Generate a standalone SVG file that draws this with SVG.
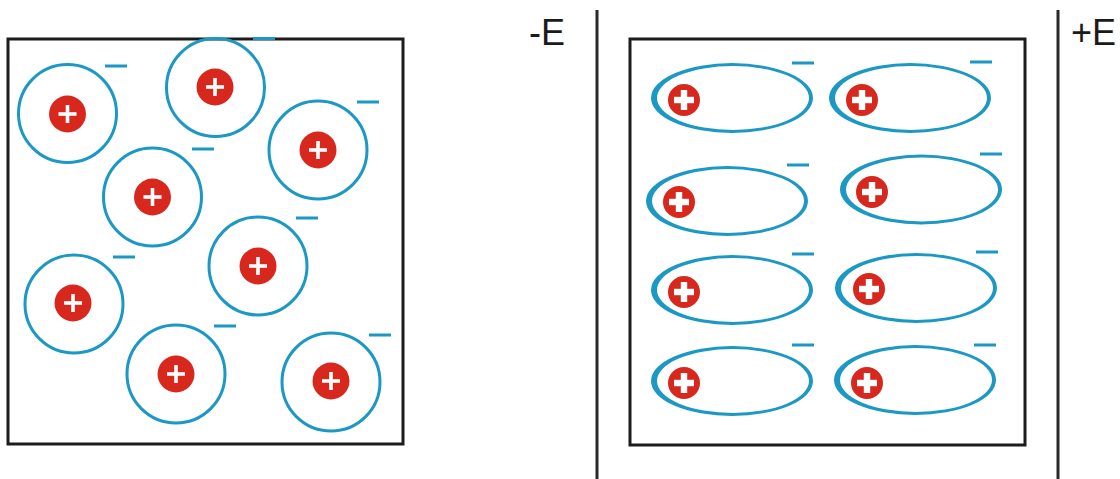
<svg xmlns="http://www.w3.org/2000/svg" xmlns:xlink="http://www.w3.org/1999/xlink" width="1120" height="479" viewBox="0 0 1120 479">
  <style>
    .frame { fill: none; stroke: #1c1c1c; stroke-width: 3; }
    .plate { stroke: #2a2a2a; stroke-width: 3; }
    .shell { fill: none; stroke: #1b98c3; stroke-width: 3; }
    .ring { fill: #1b98c3; fill-rule: evenodd; }
    .minus { fill: #1b98c3; }
    .nucleus { fill: #d8281d; }
    .nucleus-edge { fill: #d8281d; stroke: #ffffff; stroke-width: 2; }
    .plus { fill: #ffffff; }
    .label { font-family: "Liberation Sans", Arial, sans-serif; font-size: 36px; fill: #1a1a1a; }
  </style>
  <defs>
    <!-- positive core, unpolarised atom -->
    <g id="core">
      <circle class="nucleus" r="18.5"/>
      <rect class="plus" x="-9" y="-1.8" width="18" height="3.6"/>
      <rect class="plus" x="-1.8" y="-9" width="3.6" height="18"/>
    </g>
    <!-- positive core, polarised atom -->
    <g id="core-b">
      <circle class="nucleus-edge" r="17"/>
      <rect class="plus" x="-10" y="-3.2" width="20" height="6.4"/>
      <rect class="plus" x="-3.2" y="-10" width="6.4" height="20"/>
    </g>
    <!-- stretched electron cloud, heavier on the left end -->
    <path id="cloud" class="ring" d="M -81 0 A 81 35 0 1 0 81 0 A 81 35 0 1 0 -81 0 Z M -75 0 A 76 32 0 1 0 77 0 A 76 32 0 1 0 -75 0 Z"/>
    <rect id="neg" class="minus" x="0" y="-1.5" width="22" height="3"/>
  </defs>

  <rect width="1120" height="479" fill="#ffffff"/>

  <!-- left panel: no field -->
  <g id="panel-left">
    <rect class="frame" x="8" y="39" width="395" height="405"/>
  </g>
  <g id="atom-1"><circle class="shell" cx="67.5" cy="113.5" r="49"/><use xlink:href="#core" x="67.5" y="114"/><use xlink:href="#neg" x="105" y="66"/></g>
  <g id="atom-2"><circle class="shell" cx="215.5" cy="87.5" r="49"/><use xlink:href="#core" x="215" y="87"/><use xlink:href="#neg" x="253" y="38.5"/></g>
  <g id="atom-3"><circle class="shell" cx="318" cy="150" r="49"/><use xlink:href="#core" x="318" y="150"/><use xlink:href="#neg" x="357" y="102"/></g>
  <g id="atom-4"><circle class="shell" cx="152.5" cy="197" r="49"/><use xlink:href="#core" x="152.5" y="197"/><use xlink:href="#neg" x="192" y="149"/></g>
  <g id="atom-5"><circle class="shell" cx="258" cy="266" r="49"/><use xlink:href="#core" x="258" y="266"/><use xlink:href="#neg" x="296" y="218"/></g>
  <g id="atom-6"><circle class="shell" cx="74" cy="304" r="49"/><use xlink:href="#core" x="73" y="303"/><use xlink:href="#neg" x="113" y="257"/></g>
  <g id="atom-7"><circle class="shell" cx="176" cy="374" r="49"/><use xlink:href="#core" x="176" y="374"/><use xlink:href="#neg" x="214" y="326"/></g>
  <g id="atom-8"><circle class="shell" cx="331" cy="382" r="49"/><use xlink:href="#core" x="331" y="381"/><use xlink:href="#neg" x="369" y="335"/></g>

  <!-- field plates -->
  <g id="plate-neg">
    <line class="plate" x1="597" y1="10" x2="597" y2="479"/>
    <text class="label" x="529" y="45">-E</text>
  </g>
  <g id="plate-pos">
    <line class="plate" x1="1058" y1="10" x2="1058" y2="479"/>
    <text class="label" x="1071" y="45">+E</text>
  </g>

  <!-- right panel: polarised in field -->
  <g id="panel-right">
    <rect class="frame" x="630" y="39" width="395" height="406"/>
  </g>
  <g id="dipole-1"><use xlink:href="#cloud" x="732" y="98"/><use xlink:href="#core-b" x="684" y="100"/><use xlink:href="#neg" x="792" y="63"/></g>
  <g id="dipole-2"><use xlink:href="#cloud" x="910" y="98"/><use xlink:href="#core-b" x="862" y="100"/><use xlink:href="#neg" x="970" y="62"/></g>
  <g id="dipole-3"><use xlink:href="#cloud" x="727" y="201"/><use xlink:href="#core-b" x="679" y="202"/><use xlink:href="#neg" x="787" y="165"/></g>
  <g id="dipole-4"><use xlink:href="#cloud" x="921" y="189.5"/><use xlink:href="#core-b" x="872" y="192"/><use xlink:href="#neg" x="980" y="154"/></g>
  <g id="dipole-5"><use xlink:href="#cloud" x="732" y="290"/><use xlink:href="#core-b" x="684" y="292"/><use xlink:href="#neg" x="792" y="254"/></g>
  <g id="dipole-6"><use xlink:href="#cloud" x="916" y="288"/><use xlink:href="#core-b" x="869" y="289"/><use xlink:href="#neg" x="976" y="252"/></g>
  <g id="dipole-7"><use xlink:href="#cloud" x="732" y="381"/><use xlink:href="#core-b" x="684" y="383"/><use xlink:href="#neg" x="792" y="345"/></g>
  <g id="dipole-8"><use xlink:href="#cloud" x="915" y="380"/><use xlink:href="#core-b" x="867" y="383"/><use xlink:href="#neg" x="974" y="345"/></g>
</svg>
